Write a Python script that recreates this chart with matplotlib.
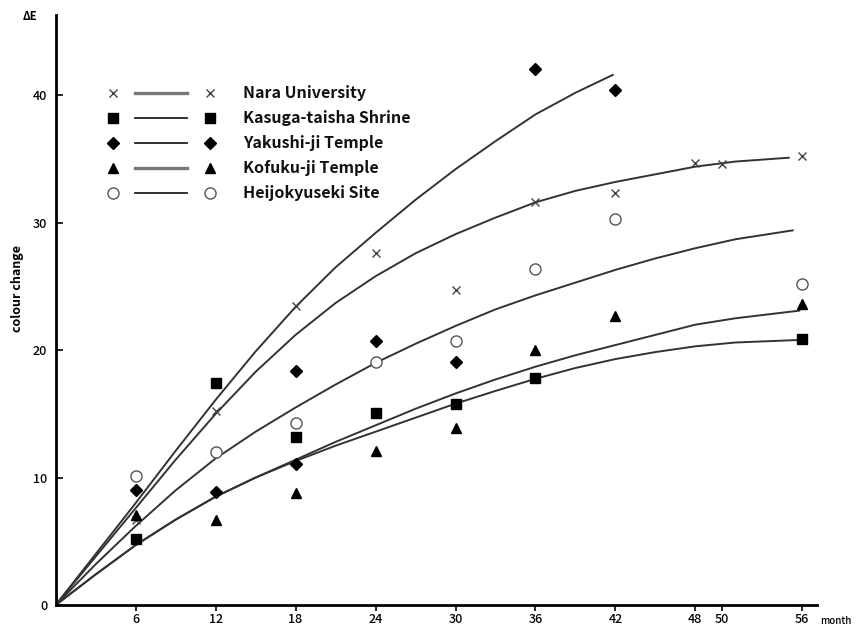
import matplotlib
matplotlib.use('Agg')
import matplotlib.pyplot as plt
from matplotlib.lines import Line2D

plt.rcParams['font.family'] = ['Noto Sans CJK JP', 'DejaVu Sans']

# measured points (month, colour change dE)
nara_months = [6, 12, 18, 24, 30, 36, 42, 48, 50, 56]
nara = [6.7, 15.2, 23.5, 27.6, 24.7, 31.6, 32.3, 34.7, 34.6, 35.2]

kasuga_months = [6, 12, 18, 24, 30, 36, 56]
kasuga = [5.2, 17.4, 13.2, 15.1, 15.8, 17.8, 20.9]

yakushi_months = [6, 12, 18, 18, 24, 30, 36, 42]
yakushi = [9.0, 8.9, 18.4, 11.1, 20.7, 19.1, 42.1, 40.4]

kofuku_months = [6, 12, 18, 24, 30, 36, 42, 56]
kofuku = [7.1, 6.7, 8.8, 12.1, 13.9, 20.0, 22.7, 23.6]

heijo_months = [6, 12, 18, 24, 30, 36, 42, 56]
heijo = [10.1, 12.0, 14.3, 19.1, 20.7, 26.4, 30.3, 25.2]

# fitted curves, values every 3 months
yakushi_fit_m = [0, 3, 6, 9, 12, 15, 18, 21, 24, 27, 30, 33, 36, 39, 41.8]
yakushi_fit = [0, 4.0, 8.0, 12.1, 16.1, 19.9, 23.4, 26.5, 29.2, 31.8, 34.2,
               36.4, 38.5, 40.2, 41.6]

nara_fit_m = [0, 3, 6, 9, 12, 15, 18, 21, 24, 27, 30, 33, 36, 39, 42, 45, 48, 51, 55]
nara_fit = [0, 3.8, 7.6, 11.4, 15.0, 18.3, 21.2, 23.7, 25.8, 27.6, 29.1, 30.4,
            31.6, 32.5, 33.2, 33.8, 34.4, 34.8, 35.1]

heijo_fit_m = [0, 3, 6, 9, 12, 15, 18, 21, 24, 27, 30, 33, 36, 39, 42, 45, 48, 51, 55.3]
heijo_fit = [0, 3.2, 6.2, 9.0, 11.5, 13.6, 15.5, 17.3, 19.0, 20.5, 21.9, 23.2,
             24.3, 25.3, 26.3, 27.2, 28.0, 28.7, 29.4]

kofuku_fit_m = [0, 3, 6, 9, 12, 15, 18, 21, 24, 27, 30, 33, 36, 39, 42, 45, 48, 51, 55.8]
kofuku_fit = [0, 2.4, 4.7, 6.7, 8.5, 10.0, 11.4, 12.8, 14.1, 15.4, 16.6, 17.7,
              18.7, 19.6, 20.4, 21.2, 22.0, 22.5, 23.1]

kasuga_fit_m = [0, 3, 6, 9, 12, 15, 18, 21, 24, 27, 30, 33, 36, 39, 42, 45, 48, 51, 55.8]
kasuga_fit = [0, 2.4, 4.7, 6.7, 8.5, 10.0, 11.3, 12.5, 13.6, 14.7, 15.8, 16.8,
              17.75, 18.6, 19.3, 19.85, 20.3, 20.6, 20.8]

x_ticks = [6, 12, 18, 24, 30, 36, 42, 48, 50, 56]
y_ticks = [0, 10, 20, 30, 40]

labels = ['Nara University', 'Kasuga-taisha Shrine', 'Yakushi-ji Temple',
          'Kofuku-ji Temple', 'Heijokyuseki Site']

W, H = 856, 630
fig = plt.figure(figsize=(W / 100, H / 100), dpi=100)
ax = fig.add_axes([55.7 / W, 25 / H, (816.7 - 55.7) / W, (605 - 15) / H])

# marker styles
st_nara = dict(marker='x', ls='none', ms=5.5, mec='#444444', mew=1.0)
st_kasuga = dict(marker='s', ls='none', ms=7.5, mfc='black', mec='black')
st_yakushi = dict(marker='D', ls='none', ms=6.5, mfc='black', mec='black')
st_kofuku = dict(marker='^', ls='none', ms=6.5, mfc='black', mec='black')
st_heijo = dict(marker='o', ls='none', ms=8, mfc='white', mec='#555555', mew=1.0)
styles = [st_nara, st_kasuga, st_yakushi, st_kofuku, st_heijo]
line_st = [dict(color='#777777', lw=2.4), dict(color='#222222', lw=1.3),
           dict(color='#222222', lw=1.3), dict(color='#777777', lw=2.4),
           dict(color='#222222', lw=1.3)]

curve_kw = dict(color='#333333', lw=1.4, zorder=2, solid_joinstyle='round')
ax.plot(yakushi_fit_m, yakushi_fit, **curve_kw)
ax.plot(nara_fit_m, nara_fit, **curve_kw)
ax.plot(heijo_fit_m, heijo_fit, **curve_kw)
ax.plot(kofuku_fit_m, kofuku_fit, **curve_kw)
ax.plot(kasuga_fit_m, kasuga_fit, **curve_kw)

ax.plot(nara_months, nara, zorder=3, **st_nara)
ax.plot(kasuga_months, kasuga, zorder=3, **st_kasuga)
ax.plot(yakushi_months, yakushi, zorder=3, **st_yakushi)
ax.plot(kofuku_months, kofuku, zorder=3, **st_kofuku)
ax.plot(heijo_months, heijo, zorder=3, **st_heijo)

ax.set_xlim(0, 57.1)
ax.set_ylim(0, 46.3)
ax.spines['top'].set_visible(False)
ax.spines['right'].set_visible(False)
ax.spines['left'].set_linewidth(2)
ax.spines['bottom'].set_linewidth(2)
ax.set_xticks(x_ticks)
ax.set_yticks(y_ticks)
ax.tick_params(axis='x', direction='out', length=4, width=1.2, labelsize=9, pad=2)
ax.tick_params(axis='y', direction='in', length=5, width=1.2, labelsize=9, pad=6)
for t in ax.get_xticklabels() + ax.get_yticklabels():
    t.set_fontweight('medium')
ax.set_facecolor('none')

fig.text(836 / W, 1 - 621 / H, 'month', fontsize=7, ha='center', va='center',
         fontweight='medium')
fig.text(30 / W, 1 - 17 / H, 'ΔE', fontsize=8, ha='center', va='center',
         fontweight='bold')
fig.text(18 / W, 1 - 289 / H, 'colour change', fontsize=9, rotation=90,
         ha='center', va='center', fontweight='bold')

# hand-made legend: marker, line, marker, label
for i, lab in enumerate(labels):
    yy = 1 - (93 + 25 * i) / H
    st = dict(styles[i])
    st.pop('ls')
    for xm in (113, 210):
        fig.add_artist(Line2D([xm / W], [yy], ls='none', transform=fig.transFigure, **st))
    fig.add_artist(Line2D([135 / W, 187 / W], [yy, yy], transform=fig.transFigure,
                          **line_st[i]))
    fig.text(243 / W, yy, lab, fontsize=11.5, fontweight='bold', ha='left',
             va='center', color='#111111')

fig.savefig('out.png', dpi=100)
